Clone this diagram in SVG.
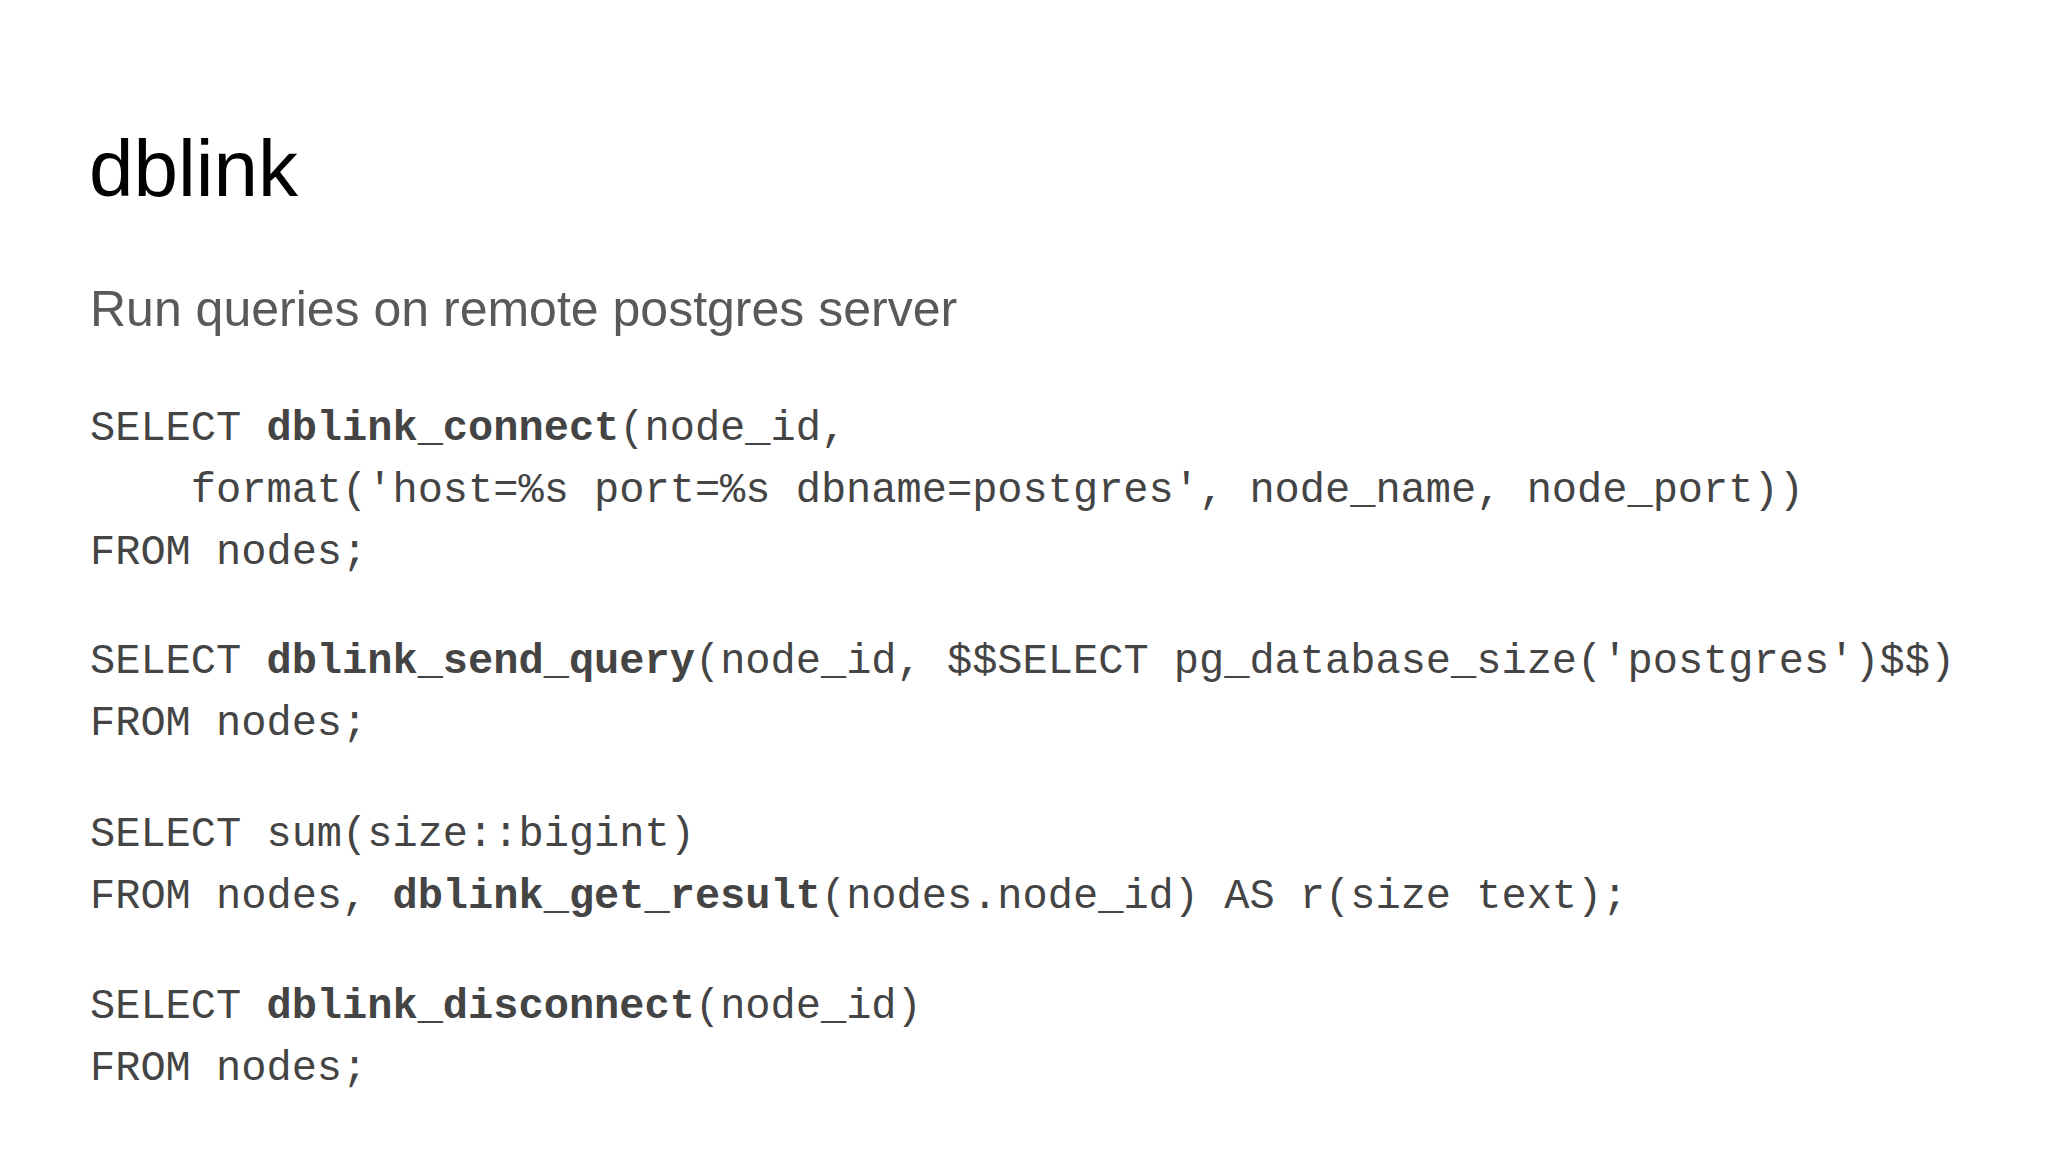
<svg xmlns="http://www.w3.org/2000/svg" width="2048" height="1152" viewBox="0 0 2048 1152">
<style>
.t{font-family:"Liberation Sans",Arial,sans-serif}
.c{font-family:"Liberation Mono","DejaVu Sans Mono",monospace;font-size:42px;fill:#444;white-space:pre}
.b{font-weight:bold}
</style>
<rect width="2048" height="1152" fill="#fff"/>
<text class="t" x="89" y="196" font-size="80" fill="#000">dblink</text>
<text class="t" x="90" y="326" font-size="50" fill="#595959">Run queries on remote postgres server</text>
<g id="code">
<text class="c" x="90" y="440">SELECT <tspan class="b">dblink_connect</tspan>(node_id,</text>
<text class="c" x="90" y="502">    format('host=%s port=%s dbname=postgres', node_name, node_port))</text>
<text class="c" x="90" y="564">FROM nodes;</text>
<text class="c" x="90" y="673">SELECT <tspan class="b">dblink_send_query</tspan>(node_id, $$SELECT pg_database_size('postgres')$$)</text>
<text class="c" x="90" y="735">FROM nodes;</text>
<text class="c" x="90" y="846">SELECT sum(size::bigint)</text>
<text class="c" x="90" y="908">FROM nodes, <tspan class="b">dblink_get_result</tspan>(nodes.node_id) AS r(size text);</text>
<text class="c" x="90" y="1018">SELECT <tspan class="b">dblink_disconnect</tspan>(node_id)</text>
<text class="c" x="90" y="1080">FROM nodes;</text>
</g>
</svg>
